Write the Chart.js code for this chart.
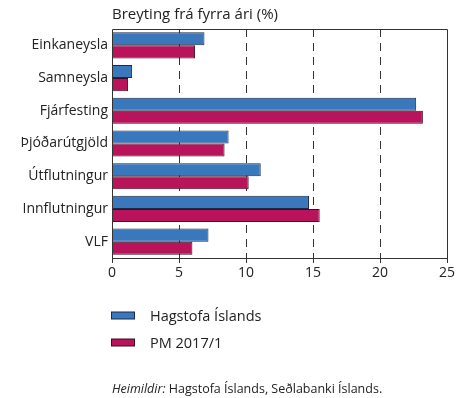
<!DOCTYPE html>
<html>
<head>
<meta charset="utf-8">
<script src="https://cdn.jsdelivr.net/npm/chart.js@4/dist/chart.umd.min.js"></script>
<style>
  html, body { margin: 0; padding: 0; background: #ffffff; }
  #wrap { width: 466px; height: 398px; position: relative; }
</style>
</head>
<body>
<div id="wrap"><canvas id="c" width="466" height="398"></canvas></div>
<script>
// Hagvöxtur og undirliðir – breyting frá fyrra ári (%)
const categories = ['Einkaneysla', 'Samneysla', 'Fjárfesting', 'Þjóðarútgjöld', 'Útflutningur', 'Innflutningur', 'VLF'];
const hagstofa = [6.9, 1.5, 22.7, 8.7, 11.1, 14.7, 7.2];
const pm2017 = [6.2, 1.2, 23.2, 8.4, 10.2, 15.5, 6.0];
const seriesNames = ['Hagstofa Íslands', 'PM 2017/1'];
const xTicks = [0, 5, 10, 15, 20, 25];
const titleText = 'Breyting frá fyrra ári (%)';
const sourceLabel = 'Heimildir:';
const sourceText = ' Hagstofa Íslands, Seðlabanki Íslands.';

const FONT = '"Open Sans", "DejaVu Sans", sans-serif';
const BLUE = '#3a78bd';
const PINK = '#b8135b';
const INK = '#222222';

// Frame, title, legend and source line
const decor = {
  id: 'decor',
  afterDraw(chart) {
    const ctx = chart.ctx;
    const a = chart.chartArea;
    ctx.save();
    // plot frame
    ctx.strokeStyle = '#333333';
    ctx.lineWidth = 1;
    ctx.setLineDash([]);
    ctx.beginPath();
    ctx.rect(Math.round(a.left) + 0.5, Math.round(a.top) + 0.5,
             Math.round(a.right - a.left), Math.round(a.bottom - a.top));
    ctx.stroke();

    // title
    ctx.fillStyle = INK;
    ctx.font = '15px ' + FONT;
    ctx.textAlign = 'left';
    ctx.textBaseline = 'middle';
    ctx.fillText(titleText, 112, 15);

    // legend
    const ds = chart.data.datasets;
    const rows = [315.5, 342.5];
    ds.forEach((d, i) => {
      const y = rows[i];
      ctx.fillStyle = d.backgroundColor;
      ctx.fillRect(111.5, y - 3.5, 23, 7);
      ctx.strokeStyle = d.borderColor;
      ctx.strokeRect(111.5, y - 3.5, 23, 7);
      ctx.fillStyle = INK;
      ctx.font = '14.5px ' + FONT;
      ctx.fillText(d.label, 150, y + 1);
    });

    // source line
    ctx.fillStyle = INK;
    ctx.font = 'italic 12.5px ' + FONT;
    ctx.fillText(sourceLabel, 112, 389);
    const w = ctx.measureText(sourceLabel).width;
    ctx.font = '12.5px ' + FONT;
    ctx.fillText(sourceText, 112 + w, 389);
    ctx.restore();
  }
};

new Chart(document.getElementById('c'), {
  type: 'bar',
  data: {
    labels: categories,
    datasets: [
      { label: seriesNames[0], data: hagstofa, backgroundColor: BLUE, borderColor: '#1c2a44', borderWidth: 1 },
      { label: seriesNames[1], data: pm2017, backgroundColor: PINK, borderColor: '#3a1020', borderWidth: 1 }
    ]
  },
  options: {
    indexAxis: 'y',
    responsive: false,
    animation: false,
    devicePixelRatio: 1,
    categoryPercentage: 0.8,
    barPercentage: 1.0,
    layout: { padding: { top: 29, right: 19, bottom: 115, left: 0 } },
    plugins: { legend: { display: false }, tooltip: { enabled: false }, title: { display: false } },
    scales: {
      x: {
        min: 0, max: 25,
        afterBuildTicks(scale) { scale.ticks = xTicks.map(v => ({ value: v })); },
        afterFit(scale) { scale.height = 25; },
        ticks: { color: INK, font: { family: FONT, size: 14 }, padding: 2, maxRotation: 0 },
        grid: {
          color: ctx => (ctx.tick && (ctx.tick.value === 0 || ctx.tick.value === 25)) ? 'rgba(0,0,0,0)' : '#333333',
          lineWidth: 1,
          drawTicks: true,
          tickLength: 5,
          tickColor: '#333333',
          tickBorderDash: []
        },
        border: { display: false, dash: [8, 6] }
      },
      y: {
        afterFit(scale) { scale.width = 112; },
        ticks: { color: INK, font: { family: FONT, size: 14 }, padding: 4 },
        grid: { display: false, drawTicks: false },
        border: { display: false }
      }
    }
  },
  plugins: [decor]
});
</script>
</body>
</html>
